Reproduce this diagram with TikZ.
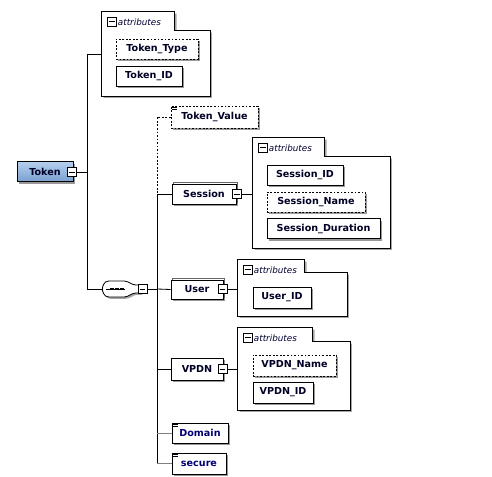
\documentclass[tikz,border=0pt]{standalone}
\usepackage{fontspec}
\setsansfont{DejaVu Sans}
\usetikzlibrary{positioning,shadows}

\newcommand{\px}{0.03cm}
\tikzset{
	elem/.style={draw,fill=white,line width=0.7pt,inner sep=0pt,
		minimum height=20*\px,text=black!85!blue,
		font=\sffamily\bfseries\fontsize{8.2}{9}\selectfont,
		drop shadow={shadow xshift=2pt,shadow yshift=-2pt,fill=black!40,opacity=1}},
	optelem/.style={elem,dash pattern=on 1.6pt off 1.4pt},
	many/.style={copy shadow={shadow xshift=1.5pt,shadow yshift=1.5pt,draw=black!60}},
	simple/.style={path picture={
		\draw[line width=0.5pt,solid] ([xshift=1pt,yshift=-1.2pt]path picture bounding box.north west) -- ++(4pt,0)
			([xshift=1pt,yshift=-2.6pt]path picture bounding box.north west) -- ++(4pt,0);}},
	minus/.style={draw,fill=white,line width=0.5pt,inner sep=0pt,minimum size=9*\px,
		path picture={\draw[line width=0.5pt] ([xshift=1.3pt]path picture bounding box.west) -- ([xshift=-1.3pt]path picture bounding box.east);}},
	attrbox/.style={inner sep=0pt},
	attrframe/.style={draw,fill=white,line width=0.6pt,
		drop shadow={shadow xshift=1.5pt,shadow yshift=-1.5pt,fill=black!35,opacity=1}},
	attrlabel/.style={inner sep=1pt,text=black!80!blue,font=\sffamily\itshape\fontsize{7.5}{8}\selectfont},
	link/.style={line width=0.7pt},
	optlink/.style={link,dash pattern=on 1.6pt off 1.4pt},
	simplelink/.style={line width=0.7pt,draw=black!50}
}
% frame with tab: name, tab width, tab drop (px)
\newcommand{\drawattr}[3]{%
	\draw[attrframe] (#1.north west) -- ([xshift=#2*\px]#1.north west) |- ([yshift=-#3*\px]#1.north east)
		-- (#1.south east) -- (#1.south west) -- cycle;
	\node[minus] (#1m) at ([xshift=10*\px,yshift=-10*\px]#1.north west) {};
	\node[attrlabel,right=0pt of #1m] (#1l) {attributes};
}

\begin{document}
\begin{tikzpicture}[x=\px,y=-\px]
	\useasboundingbox (0,0) rectangle (492,477);

	% root element
	\node[elem,minimum width=56*\px,top color={rgb,255:red,182;green,208;blue,238},
		bottom color={rgb,255:red,122;green,160;blue,208}] (tok) at (45,171.5) {Token\hspace{6pt}};
	\node[minus] (tokm) at (72,172) {};

	% attributes of Token
	\node[attrbox,minimum width=108*\px,minimum height=84*\px] (ab1) at (156,54) {};
	\drawattr{ab1}{73}{19}
	\node[optelem,minimum width=82*\px] (ttype) at (157,49) {Token\_Type};
	\node[elem,minimum width=66*\px] (tid) at (149,76) {Token\_ID};

	% sequence
	\node[inner sep=0pt,minimum width=38*\px,minimum height=15*\px] (seq) at (121,289) {};
	\draw[link,fill=white,rounded corners=1.5pt,shift={(seq.center)},
		drop shadow={shadow xshift=1.5pt,shadow yshift=-1.5pt,fill=black!35,opacity=1}]
		(-19,0) -- (-17,-6) -- (-14,-8) -- (5,-8) -- (13,-4) -- (21,-4) -- (21,4) -- (13,4)
		-- (5,8) -- (-14,8) -- (-17,6) -- cycle;
	\draw[line width=0.6pt,shift={(seq.center)}] (-15,0) -- (4,0);
	\foreach \d in {-9,-4,1}
		\fill[shift={(seq.center)}] (\d-1.6,-1.4) rectangle (\d+1.6,1.4);
	\node[minus] (seqm) at (142.5,289) {};

	% children
	\node[optelem,simple,minimum width=87*\px,minimum height=22*\px] (tval) at (214.5,117) {Token\_Value};
	\node[elem,many,minimum width=64*\px] (ses) at (204,194) {Session\hspace{8pt}};
	\node[minus] (sesm) at (237,194) {};
	\node[elem,many,minimum width=52*\px,minimum height=19*\px] (usr) at (197,289.5) {User\hspace{6pt}};
	\node[minus] (usrm) at (222.5,289) {};
	\node[elem,minimum width=52*\px,minimum height=22*\px] (vpdn) at (197,369) {VPDN\hspace{6pt}};
	\node[minus] (vpdnm) at (222.5,369) {};
	\node[elem,simple,minimum width=56*\px] (dom) at (200,433) {\textcolor{blue!45!black}{Domain}};
	\node[elem,simple,minimum width=54*\px,minimum height=21*\px] (sec) at (199,463.5) {\textcolor{blue!45!black}{secure}};

	% attributes of Session
	\node[attrbox,minimum width=137*\px,minimum height=110*\px] (ab2) at (321.5,193) {};
	\drawattr{ab2}{72}{19}
	\node[elem,minimum width=76*\px] (sid) at (305,175) {Session\_ID};
	\node[optelem,minimum width=98*\px] (sname) at (316,202) {Session\_Name};
	\node[elem,minimum width=113*\px] (sdur) at (323.5,228.5) {Session\_Duration};

	% attributes of User
	\node[attrbox,minimum width=109*\px,minimum height=56*\px] (ab3) at (292.5,288) {};
	\drawattr{ab3}{67}{13}
	\node[elem,minimum width=58*\px,minimum height=21*\px] (uid) at (282,297.5) {User\_ID};

	% attributes of VPDN
	\node[attrbox,minimum width=112*\px,minimum height=82*\px] (ab4) at (294,369) {};
	\drawattr{ab4}{75}{14}
	\node[optelem,minimum width=83*\px,minimum height=21*\px] (vname) at (294.5,365.5) {VPDN\_Name};
	\node[elem,minimum width=60*\px,minimum height=21*\px] (vid) at (283,392.5) {VPDN\_ID};

	% connectors
	\coordinate (sp1a) at (87,54);
	\coordinate (sp1b) at (87,289);
	\coordinate (sp2) at (157,289);
	\draw[link] (tokm.east) -- (tokm.east -| sp1a);
	\draw[link] (ab1.west) -- (sp1a) -- (sp1b) -- (seq.west);
	\draw[link] (seqm.east) -- (sp2);
	\draw[optlink] (tval.west) -- (tval.west -| sp2) -- (ses.west -| sp2);
	\draw[link] (ses.west -| sp2) -- (sec.west -| sp2);
	\draw[link] (ses.west -| sp2) -- (ses.west);
	\draw[link] (sp2) -- (usr.west);
	\draw[link] (vpdn.west -| sp2) -- (vpdn.west);
	\draw[simplelink] (dom.west -| sp2) -- (dom.west);
	\draw[simplelink] (sec.west -| sp2) -- (sec.west);
	\draw[link] (sesm.east) -- (sesm.east -| ab2.west);
	\draw[link] (usrm.east) -- (usrm.east -| ab3.west);
	\draw[link] (vpdnm.east) -- (vpdnm.east -| ab4.west);
\end{tikzpicture}
\end{document}
